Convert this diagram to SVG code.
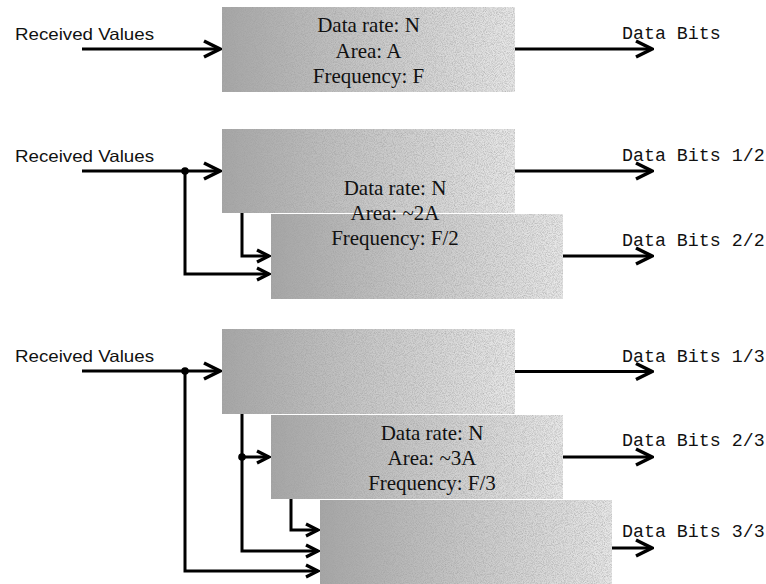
<svg xmlns="http://www.w3.org/2000/svg" width="766" height="584" viewBox="0 0 766 584">
  <defs>
    <linearGradient id="shade" x1="0" y1="0" x2="1" y2="0">
      <stop offset="0" stop-color="#a6a6a6"/>
      <stop offset="0.5" stop-color="#c8c8c8"/>
      <stop offset="1" stop-color="#e8e8e8"/>
    </linearGradient>
    <!-- fine speckle laid over the shaded blocks -->
    <filter id="grain" x="0" y="0" width="1" height="1">
      <feTurbulence type="fractalNoise" baseFrequency="1.1" numOctaves="2" seed="3" result="noise"/>
      <feColorMatrix in="noise" type="matrix" values="0 0 0 0 0.35  0 0 0 0 0.35  0 0 0 0 0.35  0 0 0 1.4 -0.5" result="speck"/>
      <feComposite in="speck" in2="SourceGraphic" operator="in" result="speckIn"/>
      <feMerge>
        <feMergeNode in="SourceGraphic"/>
        <feMergeNode in="speckIn"/>
      </feMerge>
    </filter>
    <marker id="head" markerUnits="userSpaceOnUse" viewBox="-20 -11 22 22" refX="0" refY="0" markerWidth="22" markerHeight="22" orient="auto">
      <path d="M-16,-8 L0,0 L-16,8" fill="none" stroke="#000" stroke-width="3.5" stroke-linejoin="miter"/>
    </marker>
    <marker id="headS" markerUnits="userSpaceOnUse" viewBox="-16 -9 18 18" refX="0" refY="0" markerWidth="18" markerHeight="18" orient="auto">
      <path d="M-12,-6 L0,0 L-12,6" fill="none" stroke="#000" stroke-width="3.3" stroke-linejoin="miter"/>
    </marker>
  </defs>
  <style>
    .blk { fill: url(#shade); filter: url(#grain); }
    .info { font-family: "Liberation Serif", "Times New Roman", serif; font-size: 21px; fill: #111; text-anchor: middle; }
    .in { font-family: "Liberation Sans", Arial, sans-serif; font-size: 16.5px; fill: #111; }
    .out { font-family: "Liberation Mono", "Courier New", monospace; font-size: 18.3px; fill: #111; }
    .wire { fill: none; stroke: #000; stroke-width: 3; }
    .big { marker-end: url(#head); }
    .small { marker-end: url(#headS); }
    .dot { fill: #000; }
  </style>

  <rect width="766" height="584" fill="#fff"/>

  <!-- single decoder -->
  <g id="node-1">
    <rect class="blk" x="222" y="7" width="293" height="85"/>
    <text class="info" x="368.5" y="32">Data rate: N</text>
    <text class="info" x="368.5" y="57.5">Area: A</text>
    <text class="info" x="368.5" y="83">Frequency: F</text>
  </g>

  <!-- two parallel decoders -->
  <g id="node-2a">
    <rect class="blk" x="222" y="129" width="293" height="84"/>
  </g>
  <g id="node-2b">
    <rect class="blk" x="271" y="214" width="292" height="85"/>
    <text class="info" x="395" y="195">Data rate: N</text>
    <text class="info" x="395" y="220">Area: ~2A</text>
    <text class="info" x="395" y="245">Frequency: F/2</text>
  </g>

  <!-- three parallel decoders -->
  <g id="node-3a">
    <rect class="blk" x="222" y="329" width="293" height="85"/>
  </g>
  <g id="node-3b">
    <rect class="blk" x="271" y="415" width="292" height="84"/>
    <text class="info" x="432" y="440">Data rate: N</text>
    <text class="info" x="432" y="465">Area: ~3A</text>
    <text class="info" x="432" y="490">Frequency: F/3</text>
  </g>
  <g id="node-3c">
    <rect class="blk" x="320" y="500" width="292" height="84"/>
  </g>

  <!-- port labels -->
  <g id="labels-in">
    <text class="in" x="15" y="39.5" textLength="139" lengthAdjust="spacingAndGlyphs">Received Values</text>
    <text class="in" x="15" y="161.5" textLength="139" lengthAdjust="spacingAndGlyphs">Received Values</text>
    <text class="in" x="15" y="361.5" textLength="139" lengthAdjust="spacingAndGlyphs">Received Values</text>
  </g>
  <g id="labels-out">
    <text class="out" x="622" y="39">Data Bits</text>
    <text class="out" x="622" y="161">Data Bits 1/2</text>
    <text class="out" x="622" y="246">Data Bits 2/2</text>
    <text class="out" x="622" y="361.5">Data Bits 1/3</text>
    <text class="out" x="622" y="446">Data Bits 2/3</text>
    <text class="out" x="622" y="537">Data Bits 3/3</text>
  </g>

  <g id="connectors">
    <!-- section 1 -->
    <path class="wire big" d="M82,49 H220"/>
    <path class="wire big" d="M515,49 H652"/>

    <!-- section 2 -->
    <path class="wire big" d="M82,171 H220"/>
    <path class="wire small" d="M185,171 V274 H269"/>
    <path class="wire small" d="M242,213 V256 H269"/>
    <circle class="dot" cx="185" cy="171" r="3.8"/>
    <path class="wire big" d="M515,171 H652"/>
    <path class="wire big" d="M563,256 H652"/>

    <!-- section 3 -->
    <path class="wire big" d="M82,371 H220"/>
    <path class="wire small" d="M185,371 V571 H318"/>
    <path class="wire small" d="M242,414 V551 H318"/>
    <path class="wire small" d="M242,457 H269"/>
    <path class="wire small" d="M291,499 V530 H318"/>
    <circle class="dot" cx="185" cy="371" r="3.8"/>
    <circle class="dot" cx="242" cy="457" r="3.8"/>
    <path class="wire big" d="M515,371.5 H652"/>
    <path class="wire big" d="M563,457 H652"/>
    <path class="wire big" d="M612,548 H652"/>
  </g>
</svg>
